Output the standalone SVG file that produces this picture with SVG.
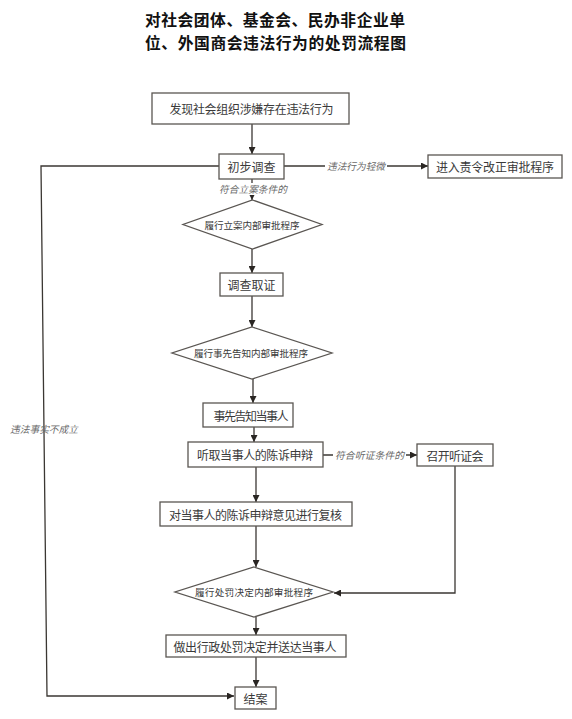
<svg xmlns="http://www.w3.org/2000/svg" width="572" height="719" viewBox="0 0 572 719">
<style>
.box{fill:#fff;stroke:#5a5652;stroke-width:1.3}
.t{font-family:"Noto Sans CJK SC","Noto Sans",sans-serif;font-size:12px;fill:#3a3a3a;text-anchor:middle;dominant-baseline:central}
.d{font-size:9.6px}
.lbl{font-family:"Noto Sans CJK SC","Noto Sans",sans-serif;font-size:9.8px;font-style:italic;fill:#6a6a6a;text-anchor:middle;dominant-baseline:central}
.title{font-family:"Noto Sans CJK SC",sans-serif;font-size:15.8px;font-weight:bold;fill:#111;text-anchor:middle}
.c{fill:none;stroke:#3b3733;stroke-width:1.3}
</style>
<defs>
<marker id="ah" viewBox="0 0 10 10" refX="10" refY="5" markerWidth="7" markerHeight="7" markerUnits="userSpaceOnUse" orient="auto">
<path d="M0,0 L10,5 L0,10 z" fill="#2a2623"/>
</marker>
</defs>
<rect width="572" height="719" fill="#fff"/>
<text class="title" x="275" y="25.5" textLength="260" lengthAdjust="spacing">对社会团体、基金会、民办非企业单</text>
<text class="title" x="275.5" y="48.5" textLength="261" lengthAdjust="spacing">位、外国商会违法行为的处罚流程图</text>

<g id="connectors">
<path class="c" d="M252,124 V154" marker-end="url(#ah)"/>
<path class="c" d="M219,166 H41 L47,696 H234" marker-end="url(#ah)"/>
<path class="c" d="M284,166 H428" marker-end="url(#ah)"/>
<path class="c" d="M252,179 V200" marker-end="url(#ah)"/>
<path class="c" d="M252,249 V273" marker-end="url(#ah)"/>
<path class="c" d="M252,296 V327" marker-end="url(#ah)"/>
<path class="c" d="M253,379 V403" marker-end="url(#ah)"/>
<path class="c" d="M254,427 V442" marker-end="url(#ah)"/>
<path class="c" d="M323,455 H417" marker-end="url(#ah)"/>
<path class="c" d="M256,467 V502" marker-end="url(#ah)"/>
<path class="c" d="M455,466 V593 H334" marker-end="url(#ah)"/>
<path class="c" d="M256,526 V567" marker-end="url(#ah)"/>
<path class="c" d="M256,617 V635" marker-end="url(#ah)"/>
<path class="c" d="M256,657 V687" marker-end="url(#ah)"/>
<rect x="325" y="159" width="62" height="14" fill="#fff"/>
<text class="lbl" x="356" y="166" textLength="58" lengthAdjust="spacingAndGlyphs">违法行为轻微</text>
<rect x="217" y="183" width="72" height="12" fill="#fff"/>
<text class="lbl" x="253" y="189" textLength="68" lengthAdjust="spacingAndGlyphs">符合立案条件的</text>
<rect x="333" y="448" width="73" height="14" fill="#fff"/>
<text class="lbl" x="369.5" y="455" textLength="69" lengthAdjust="spacingAndGlyphs">符合听证条件的</text>
<text class="lbl" x="44" y="429" textLength="68" lengthAdjust="spacingAndGlyphs">违法事实不成立</text>
</g>

<g id="n1"><rect class="box" x="152" y="93" width="197" height="31"/><text class="t" x="251.5" y="108.5" textLength="164" lengthAdjust="spacing">发现社会组织涉嫌存在违法行为</text></g>
<g id="n2"><rect class="box" x="219" y="154" width="65" height="25"/><text class="t" x="251.5" y="166.5">初步调查</text></g>
<g id="n3"><rect class="box" x="428" y="155" width="134" height="23"/><text class="t" x="495" y="166.5" textLength="118" lengthAdjust="spacing">进入责令改正审批程序</text></g>
<g id="n4"><polygon class="box" points="252.5,200 322,224.5 252.5,249 183,224.5"/><text class="t d" x="252" y="224.5" textLength="95" lengthAdjust="spacing">履行立案内部审批程序</text></g>
<g id="n5"><rect class="box" x="220" y="273" width="63" height="23"/><text class="t" x="251.5" y="284.5">调查取证</text></g>
<g id="n6"><polygon class="box" points="252,327 332,353 252,379 172,353"/><text class="t d" x="251" y="353" textLength="114" lengthAdjust="spacing">履行事先告知内部审批程序</text></g>
<g id="n7"><rect class="box" x="203" y="403" width="90" height="24"/><text class="t" x="251" y="415" textLength="75" lengthAdjust="spacing">事先告知当事人</text></g>
<g id="n8"><rect class="box" x="188" y="442" width="135" height="25"/><text class="t" x="255" y="454.5" textLength="116" lengthAdjust="spacing">听取当事人的陈诉申辩</text></g>
<g id="n9"><rect class="box" x="417" y="444" width="76" height="22"/><text class="t" x="455" y="455" textLength="57" lengthAdjust="spacing">召开听证会</text></g>
<g id="n10"><rect class="box" x="160" y="502" width="192" height="24"/><text class="t" x="255.5" y="514" textLength="173" lengthAdjust="spacing">对当事人的陈诉申辩意见进行复核</text></g>
<g id="n11"><polygon class="box" points="254,567 333,592 254,617 175,592"/><text class="t d" x="254" y="592" textLength="118" lengthAdjust="spacing">履行处罚决定内部审批程序</text></g>
<g id="n12"><rect class="box" x="166" y="635" width="180" height="22"/><text class="t" x="255" y="646" textLength="163" lengthAdjust="spacing">做出行政处罚决定并送达当事人</text></g>
<g id="n13"><rect class="box" x="235" y="687" width="41" height="22"/><text class="t" x="255.5" y="698">结案</text></g>
</svg>
